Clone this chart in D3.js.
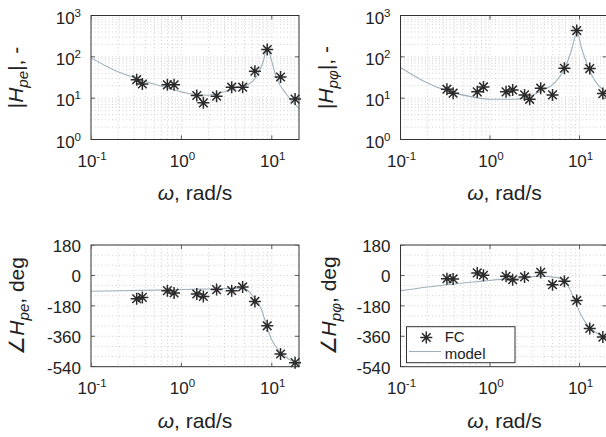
<!DOCTYPE html>
<html><head><meta charset="utf-8">
<script src="https://cdn.jsdelivr.net/npm/d3@7/dist/d3.min.js"></script>
<style>
body{margin:0;background:#fff}
svg{display:block}
text{font-family:"Liberation Sans",Arial,Helvetica,sans-serif;fill:#222}
</style>
</head><body>
<svg id="c" width="606" height="437"></svg>
<script>
// ---------- tick labels ----------
const xTickVals = [0.1, 1, 10];
const xTickExp = ["-1", "0", "1"];
const magTickVals = [1, 10, 100, 1000];
const magTickExp = ["0", "1", "2", "3"];
const phaseTickVals = [180, 0, -180, -360, -540];
const phaseTickLabels = ["180", "0", "-180", "-360", "-540"];

// ---------- FC (measured) points ----------
const fcFreqPe = [0.32, 0.37, 0.70, 0.83, 1.48, 1.75, 2.45, 3.6, 4.76, 6.5, 8.9, 12.5, 18.1];
const fcMagPe = [28, 22, 21, 21, 11.6, 7.7, 11.2, 18.4, 18.4, 45, 150, 32.5, 9.5];
const fcPhasePe = [-138, -130, -90, -104, -110, -124, -84, -90, -68, -154, -298, -465, -516];

const fcFreqPphiMag = [0.33, 0.387, 0.72, 0.845, 1.51, 1.79, 2.43, 2.77, 3.68, 4.99, 6.77, 9.3, 13, 18.2];
const fcMagPphi = [16.5, 13.2, 14.2, 18.7, 14.2, 15.8, 12, 9.4, 17.4, 12, 53, 432, 52, 12.9];
const fcFreqPphiPhase = [0.33, 0.387, 0.72, 0.845, 1.51, 1.79, 2.43, 3.68, 4.99, 6.77, 9.3, 13, 18.2];
const fcPhasePphi = [-19, -21, 15, 1, -5, -25, -9, 18, -55, -35, -148, -314, -365];

// ---------- model curves ----------
const modelFreqMagPe = [0.1, 0.177, 0.32, 0.687, 1.24, 1.9, 2.67, 4.09, 5.5, 6.8, 8.06, 8.9, 9.98, 11.3, 14.6, 20];
const modelMagPe = [94, 49, 30, 17.8, 12.8, 11.8, 13.5, 17.8, 21.4, 34, 78, 171, 78, 31, 12.3, 5.7];
const modelFreqPhasePe = [0.1, 0.5, 1.61, 4.8, 6.24, 7.73, 8.79, 9.98, 12.3, 15.9, 20];
const modelPhasePe = [-94, -87, -81, -75, -124, -203, -302, -381, -451, -500, -540];

const modelFreqMagPphi = [0.1, 0.18, 0.33, 0.61, 1.02, 1.87, 2.65, 3.75, 5.3, 6.77, 8.2, 9.33, 10.6, 13.2, 16.4, 20];
const modelMagPphi = [55, 26, 15, 10.9, 9.4, 9.4, 10.9, 15, 23.8, 50, 155, 393, 155, 42, 19.8, 14];
const modelFreqPhasePphi = [0.1, 0.33, 0.787, 1.43, 2.23, 3.75, 5.69, 6.87, 7.83, 8.92, 10.6, 12.6, 15.7, 20];
const modelPhasePphi = [-90, -55, -35, -22, -15, -4, -13, -35, -84, -154, -243, -302, -342, -378];

// ---------- layout ----------
const svg = d3.select("#c");
const FS_TICK = 17, FS_SUP = 11.5, FS_LABEL = 21;
const COL_AX = "#333", COL_GRID = "#cdcdcd", COL_MODEL = "#9fb2bb", COL_STAR = "#2b2b2b";

const panels = [
  {x0: 91, x1: 299, y0: 15.5, y1: 139.5, kind: "mag",
   fcF: fcFreqPe, fcV: fcMagPe, mF: modelFreqMagPe, mV: modelMagPe,
   ylab: [{t: "|"}, {t: "H", i: 1}, {t: "pe", i: 1, sub: 1}, {t: "|, -"}], ylx: 23, xlabY: 200},
  {x0: 400.5, x1: 606.5, y0: 15.5, y1: 139.5, kind: "mag",
   fcF: fcFreqPphiMag, fcV: fcMagPphi, mF: modelFreqMagPphi, mV: modelMagPphi,
   ylab: [{t: "|"}, {t: "H", i: 1}, {t: "p\u03C6", i: 1, sub: 1}, {t: "|, -"}], ylx: 333, xlabY: 200},
  {x0: 91, x1: 299, y0: 245, y1: 366.7, kind: "phase",
   fcF: fcFreqPe, fcV: fcPhasePe, mF: modelFreqPhasePe, mV: modelPhasePe,
   ylab: [{t: "\u2220"}, {t: "H", i: 1}, {t: "pe", i: 1, sub: 1}, {t: ", deg"}], ylx: 24, xlabY: 428},
  {x0: 400.5, x1: 606.5, y0: 245, y1: 366.7, kind: "phase",
   fcF: fcFreqPphiPhase, fcV: fcPhasePphi, mF: modelFreqPhasePphi, mV: modelPhasePphi,
   ylab: [{t: "\u2220"}, {t: "H", i: 1}, {t: "p\u03C6", i: 1, sub: 1}, {t: ", deg"}], ylx: 336, xlabY: 428, legend: true}
];

function rich(sel, parts, size, subShift) {
  let cur = 0;
  parts.forEach(p => {
    const ts = sel.append("tspan").text(p.t);
    if (p.i) ts.attr("font-style", "italic");
    let target = 0;
    if (p.sub) { target = subShift; ts.attr("font-size", size * 0.72); }
    if (p.sup) { target = -7; ts.attr("font-size", FS_SUP); }
    if (target !== cur) { ts.attr("dy", target - cur); cur = target; }
  });
}

const starPath = (s) => {
  const d = s * 0.72;
  return `M${-s},0L${s},0M0,${-s}L0,${s}M${-d},${-d}L${d},${d}M${-d},${d}L${d},${-d}`;
};

panels.forEach((P, idx) => {
  const x = d3.scaleLog().domain([0.1, 20]).range([P.x0, P.x1]);
  const y = P.kind === "mag"
    ? d3.scaleLog().domain([1, 1000]).range([P.y1, P.y0])
    : d3.scaleLinear().domain([-540, 180]).range([P.y1, P.y0]);
  const g = svg.append("g");
  const clipId = "clip" + idx;
  svg.append("clipPath").attr("id", clipId).append("rect")
    .attr("x", P.x0).attr("y", P.y0).attr("width", P.x1 - P.x0).attr("height", P.y1 - P.y0);

  // grid
  const xGrid = [];
  [-1, 0, 1].forEach(d => { for (let k = 1; k <= 9; k++) { const v = k * Math.pow(10, d); if (v > 0.1 && v < 20) xGrid.push(v); } });
  const yGrid = [];
  if (P.kind === "mag") {
    [0, 1, 2].forEach(d => { for (let k = 1; k <= 9; k++) { const v = k * Math.pow(10, d); if (v > 1 && v < 1000) yGrid.push(v); } });
  } else {
    for (let v = -480; v < 180; v += 60) yGrid.push(v);
  }
  const grid = g.append("g").attr("clip-path", `url(#${clipId})`)
    .attr("stroke", COL_GRID).attr("stroke-width", 0.9).attr("stroke-dasharray", "1,2.5");
  grid.selectAll("line.vx").data(xGrid).join("line")
    .attr("x1", d => x(d)).attr("x2", d => x(d)).attr("y1", P.y0).attr("y2", P.y1);
  grid.selectAll("line.hy").data(yGrid).join("line")
    .attr("x1", P.x0).attr("x2", P.x1).attr("y1", d => y(d)).attr("y2", d => y(d));

  // ticks (inside)
  const tk = g.append("g").attr("stroke", COL_AX).attr("stroke-width", 0.8).attr("clip-path", `url(#${clipId})`);
  xTickVals.forEach(v => {
    tk.append("line").attr("x1", x(v)).attr("x2", x(v)).attr("y1", P.y1).attr("y2", P.y1 - 4);
    tk.append("line").attr("x1", x(v)).attr("x2", x(v)).attr("y1", P.y0).attr("y2", P.y0 + 4);
  });
  const yT = P.kind === "mag" ? magTickVals : phaseTickVals;
  yT.forEach(v => {
    tk.append("line").attr("x1", P.x0).attr("x2", P.x0 + 4).attr("y1", y(v)).attr("y2", y(v));
    tk.append("line").attr("x1", P.x1).attr("x2", P.x1 - 4).attr("y1", y(v)).attr("y2", y(v));
  });

  // model line
  const lineGen = d3.line().x(d => x(d[0])).y(d => y(d[1])).curve(d3.curveMonotoneX);
  g.append("path").datum(d3.zip(P.mF, P.mV)).attr("clip-path", `url(#${clipId})`)
    .attr("d", lineGen).attr("fill", "none").attr("stroke", COL_MODEL).attr("stroke-width", 1.1);

  // FC stars
  g.selectAll("path.star").data(d3.zip(P.fcF, P.fcV)).join("path")
    .attr("transform", d => `translate(${x(d[0])},${y(d[1])})`)
    .attr("d", starPath(6)).attr("fill", "none").attr("stroke", COL_STAR).attr("stroke-width", 1.5);

  // box
  g.append("rect").attr("x", P.x0).attr("y", P.y0).attr("width", P.x1 - P.x0).attr("height", P.y1 - P.y0)
    .attr("fill", "none").attr("stroke", COL_AX).attr("stroke-width", 1);

  // x tick labels
  xTickVals.forEach((v, i) => {
    const t = g.append("text").attr("x", x(v) + 1).attr("y", P.y1 + 27)
      .attr("text-anchor", "middle").attr("font-size", FS_TICK);
    rich(t, [{t: "10"}, {t: xTickExp[i], sup: 1}], FS_TICK, 0);
  });
  // y tick labels
  if (P.kind === "mag") {
    magTickVals.forEach((v, i) => {
      const t = g.append("text").attr("x", P.x0 - 10).attr("y", y(v) + 8)
        .attr("text-anchor", "end").attr("font-size", FS_TICK);
      rich(t, [{t: "10"}, {t: magTickExp[i], sup: 1}], FS_TICK, 0);
    });
  } else {
    phaseTickVals.forEach((v, i) => {
      g.append("text").attr("x", P.x0 - 10).attr("y", y(v) + 7)
        .attr("text-anchor", "end").attr("font-size", FS_TICK).text(phaseTickLabels[i]);
    });
  }

  // x label
  const xl = g.append("text").attr("x", (P.x0 + 208 / 2)).attr("y", P.xlabY)
    .attr("text-anchor", "middle").attr("font-size", FS_LABEL);
  rich(xl, [{t: "\u03C9", i: 1}, {t: ", rad/s"}], FS_LABEL, 0);

  // y label
  const yc = (P.y0 + P.y1) / 2;
  const yl = g.append("text").attr("transform", `translate(${P.ylx},${yc}) rotate(-90)`)
    .attr("text-anchor", "middle").attr("font-size", FS_LABEL);
  rich(yl, P.ylab, FS_LABEL, 5);

  // legend
  if (P.legend) {
    const L = g.append("g");
    L.append("rect").attr("x", 406.5).attr("y", 326.7).attr("width", 108.5).attr("height", 36)
      .attr("fill", "#fff").attr("stroke", COL_AX).attr("stroke-width", 1);
    L.append("path").attr("transform", "translate(426.3,337.5)").attr("d", starPath(6))
      .attr("fill", "none").attr("stroke", COL_STAR).attr("stroke-width", 1.5);
    L.append("text").attr("x", 444.7).attr("y", 341.5).attr("font-size", 15).text("FC");
    L.append("line").attr("x1", 409).attr("x2", 441).attr("y1", 351.5).attr("y2", 351.5)
      .attr("stroke", COL_MODEL).attr("stroke-width", 1.1);
    L.append("text").attr("x", 444.7).attr("y", 359).attr("font-size", 15).text("model");
  }
});
</script>
</body></html>
